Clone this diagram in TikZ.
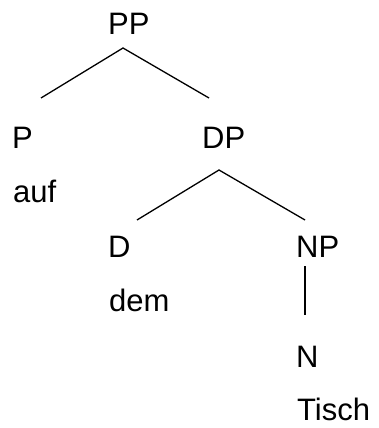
\documentclass[tikz,border=0pt]{standalone}
\usepackage{fontspec}
\setmainfont{Liberation Sans}
\begin{document}
\begin{tikzpicture}[x=1pt,y=-1pt,
  lab/.style={anchor=base west,inner sep=0pt,font=\fontsize{31}{36}\selectfont},
  edge/.style={line width=1.3pt}]
\useasboundingbox (0,0) rectangle (378,428);
\node[lab] (PP) at (108,35) {PP};
\node[lab] (P) at (12,148) {P};
\node[lab] (DP) at (202,148) {DP};
\node[lab] (auf) at (13,202) {auf};
\node[lab] (D) at (108,257) {D};
\node[lab] (NP) at (296,257) {NP};
\node[lab] (dem) at (109,311) {dem};
\node[lab] (N) at (296,367) {N};
\node[lab] (Tisch) at (297,420) {Tisch};
\coordinate (PPb) at (123,48);
\coordinate (Pt) at (41,98);
\coordinate (DPt) at (209,98);
\coordinate (DPb) at (219,170);
\coordinate (Dt) at (137,220);
\coordinate (NPt) at (305,220);
\coordinate (NPb) at (305,266);
\coordinate (Nt) at (305,315);
\draw[edge] (Pt) -- (PPb) -- (DPt);
\draw[edge] (Dt) -- (DPb) -- (NPt);
\draw[edge] (NPb) -- (Nt);
\end{tikzpicture}
\end{document}
